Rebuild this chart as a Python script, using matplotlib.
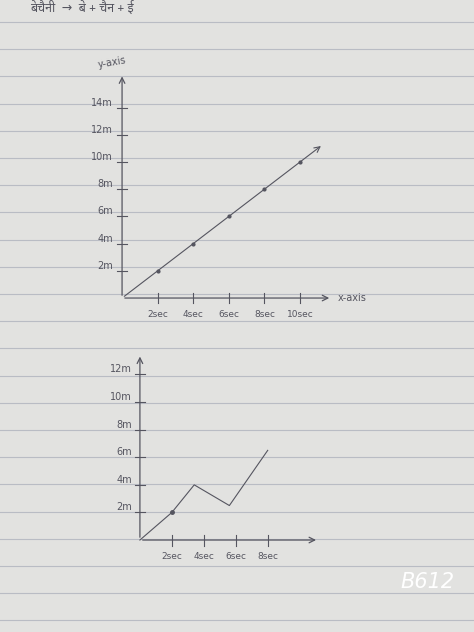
import matplotlib
matplotlib.use("Agg")
import matplotlib.pyplot as plt
import numpy as np

W, H = 474, 632
# top chart
top_t = [0, 2, 4, 6, 8, 10]
top_d = [0, 2, 4, 6, 8, 10]
top_xticks = [2, 4, 6, 8, 10]
top_xlabels = ["2sec", "4sec", "6sec", "8sec", "10sec"]
top_yticks = [2, 4, 6, 8, 10, 12, 14]
top_ylabels = ["2m", "4m", "6m", "8m", "10m", "12m", "14m"]
# bottom chart
bot_t = [0, 2, 3.4, 5.6, 8]
bot_d = [0, 2, 4, 2.5, 6.5]
bot_xticks = [2, 4, 6, 8]
bot_xlabels = ["2sec", "4sec", "6sec", "8sec"]
bot_yticks = [2, 4, 6, 8, 10, 12]
bot_ylabels = ["2m", "4m", "6m", "8m", "10m", "12m"]

ink = "#555560"
fig = plt.figure(figsize=(W/100, H/100), dpi=100)
fig.patch.set_facecolor("#e2e2e0")
bg = fig.add_axes([0, 0, 1, 1])
bg.set_xlim(0, W); bg.set_ylim(H, 0); bg.axis("off")
for y in np.arange(22, H, 27.2):
    bg.plot([0, W], [y, y], color="#b9bcc4", lw=0.8)
bg.text(30, 8, "बेचैनी  →  बे + चैन + ई", fontsize=9, color=ink, va="center",
        family=["Noto Sans Devanagari", "Noto Sans", "DejaVu Sans"])
bg.text(112, 68, "y-axis", fontsize=7, color=ink, rotation=10, ha="center")
bg.text(352, 298, "x-axis", fontsize=7, color=ink, ha="center", va="center")
bg.text(428, 582, "B612", fontsize=15, color="white", ha="center", va="center", style="italic")

def chart(px, xlim, ylim, t, d, xt, xl, yt, yl, ymax, xmax, arrow):
    l, b, w, h = px
    ax = fig.add_axes([l/W, (H-b)/H, w/W, h/H])
    ax.set_xlim(*xlim); ax.set_ylim(*ylim); ax.axis("off")
    ax.annotate("", xy=(0, ymax), xytext=(0, 0),
                arrowprops=dict(arrowstyle="->", color=ink, lw=0.9))
    ax.annotate("", xy=(xmax, 0), xytext=(0, 0),
                arrowprops=dict(arrowstyle="->", color=ink, lw=0.9))
    for v, s in zip(xt, xl):
        ax.plot([v, v], [-0.4, 0.4], color=ink, lw=0.8)
        ax.text(v, -0.9, s, fontsize=6.5, color=ink, ha="center", va="top")
    for v, s in zip(yt, yl):
        ax.plot([-0.3, 0.3], [v, v], color=ink, lw=0.8)
        ax.text(-0.5, v, s, fontsize=7, color=ink, ha="right", va="bottom")
    if arrow:
        ax.annotate("", xy=(11.3, 11.3), xytext=(0, 0),
                    arrowprops=dict(arrowstyle="->", color=ink, lw=0.8))
        ax.plot(t[1:], d[1:], "o", color=ink, ms=2)
    else:
        ax.plot(t, d, color=ink, lw=0.8)
        ax.plot([t[1]], [d[1]], "o", color=ink, ms=2.5)
    return ax

chart((100, 330, 245, 270), (-1.24, 12.53), (-2.35, 17.5), top_t, top_d,
      top_xticks, top_xlabels, top_yticks, top_ylabels, 16.5, 11.8, True)
chart((115, 565, 215, 225), (-1.56, 11.9), (-1.81, 14.5), bot_t, bot_d,
      bot_xticks, bot_xlabels, bot_yticks, bot_ylabels, 13.5, 11.2, False)

fig.savefig("out.png", dpi=100, facecolor=fig.get_facecolor())
